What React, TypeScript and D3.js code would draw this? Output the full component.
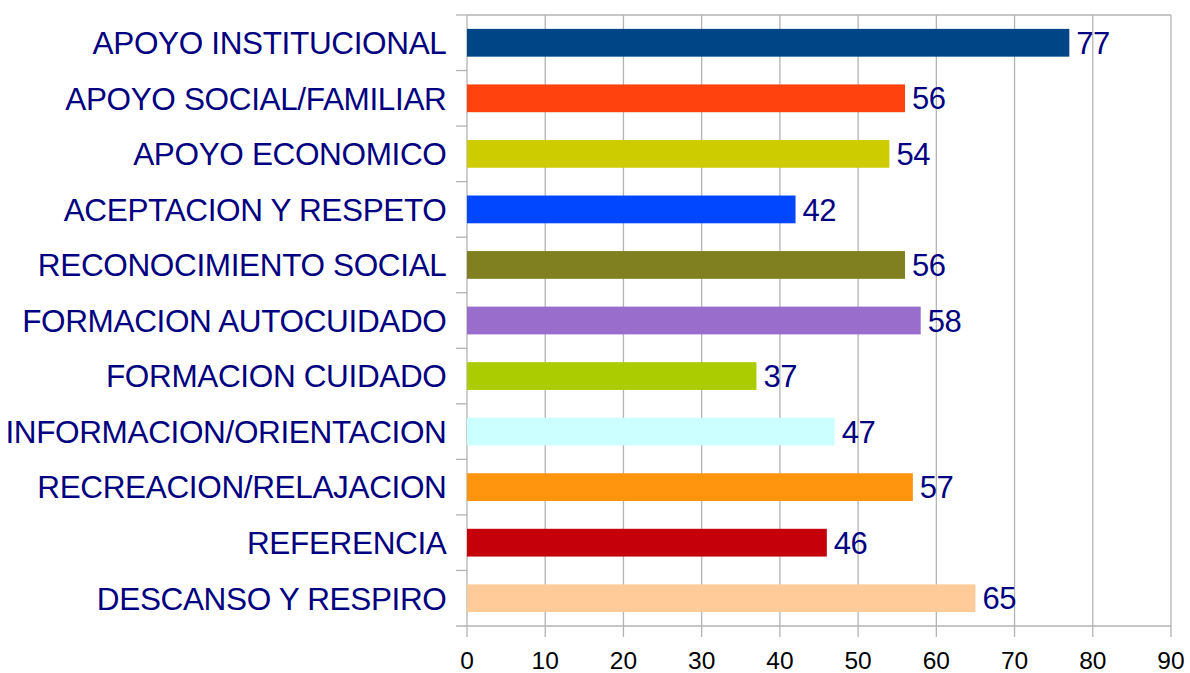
import React from "react";
import * as d3 from "d3";

const categories = [
  "APOYO INSTITUCIONAL",
  "APOYO SOCIAL/FAMILIAR",
  "APOYO ECONOMICO",
  "ACEPTACION Y RESPETO",
  "RECONOCIMIENTO SOCIAL",
  "FORMACION AUTOCUIDADO",
  "FORMACION CUIDADO",
  "INFORMACION/ORIENTACION",
  "RECREACION/RELAJACION",
  "REFERENCIA",
  "DESCANSO Y RESPIRO",
];
const values = [77, 56, 54, 42, 56, 58, 37, 47, 57, 46, 65];
const colors = [
  "#004586",
  "#ff420e",
  "#cccc00",
  "#0047ff",
  "#808020",
  "#996dcc",
  "#aacc00",
  "#ccffff",
  "#ff950e",
  "#c5000b",
  "#ffcc99",
];
const xTicks = [0, 10, 20, 30, 40, 50, 60, 70, 80, 90];

export default function App() {
  const W = 1190, H = 673;
  const left = 467, right = 1171, top = 15, bottom = 626;
  const x = d3.scaleLinear().domain([0, 90]).range([left, right]);
  const y = d3.scaleBand().domain(categories).range([top, bottom]).paddingInner(0.5).paddingOuter(0.25);
  const band = d3.scaleBand().domain(categories).range([top, bottom]);
  const font = "'Liberation Sans', Arial, sans-serif";
  const grid = "#b3b3b3";
  return (
    <svg width={W} height={H} style={{ position: "absolute", left: 0, top: 0 }} fontFamily={font}>
      <rect width={W} height={H} fill="#fff" />
      {xTicks.map((t) => (
        <line key={"g" + t} x1={x(t)} x2={x(t)} y1={top} y2={bottom + 11} stroke={grid} strokeWidth={1.3} />
      ))}
      <line x1={left} x2={right} y1={top} y2={top} stroke={grid} strokeWidth={1.3} />
      <line x1={left - 11} x2={right} y1={bottom} y2={bottom} stroke={grid} strokeWidth={1.3} />
      {categories.map((c) => (
        <line key={"yt" + c} x1={left - 11} x2={left} y1={band(c)!} y2={band(c)!} stroke={grid} strokeWidth={1.3} />
      ))}
      {categories.map((c, i) => (
        <rect key={"b" + c} x={x(0)} y={y(c)!} width={x(values[i]) - x(0)} height={y.bandwidth()} fill={colors[i]} />
      ))}
      {categories.map((c, i) => (
        <text key={"v" + c} x={x(values[i]) + 7} y={y(c)! + y.bandwidth() / 2} dy="0.36em" fontSize={31} letterSpacing={-0.5} fill="#000080">
          {values[i]}
        </text>
      ))}
      {categories.map((c) => (
        <text key={"l" + c} x={446.5} y={band(c)! + band.bandwidth() / 2} dy="0.36em" fontSize={31.5} letterSpacing={-0.35} fill="#000080" textAnchor="end">
          {c}
        </text>
      ))}
      {xTicks.map((t) => (
        <text key={"t" + t} x={x(t)} y={669} fontSize={24.5} fill="#000" textAnchor="middle">
          {t}
        </text>
      ))}
    </svg>
  );
}
